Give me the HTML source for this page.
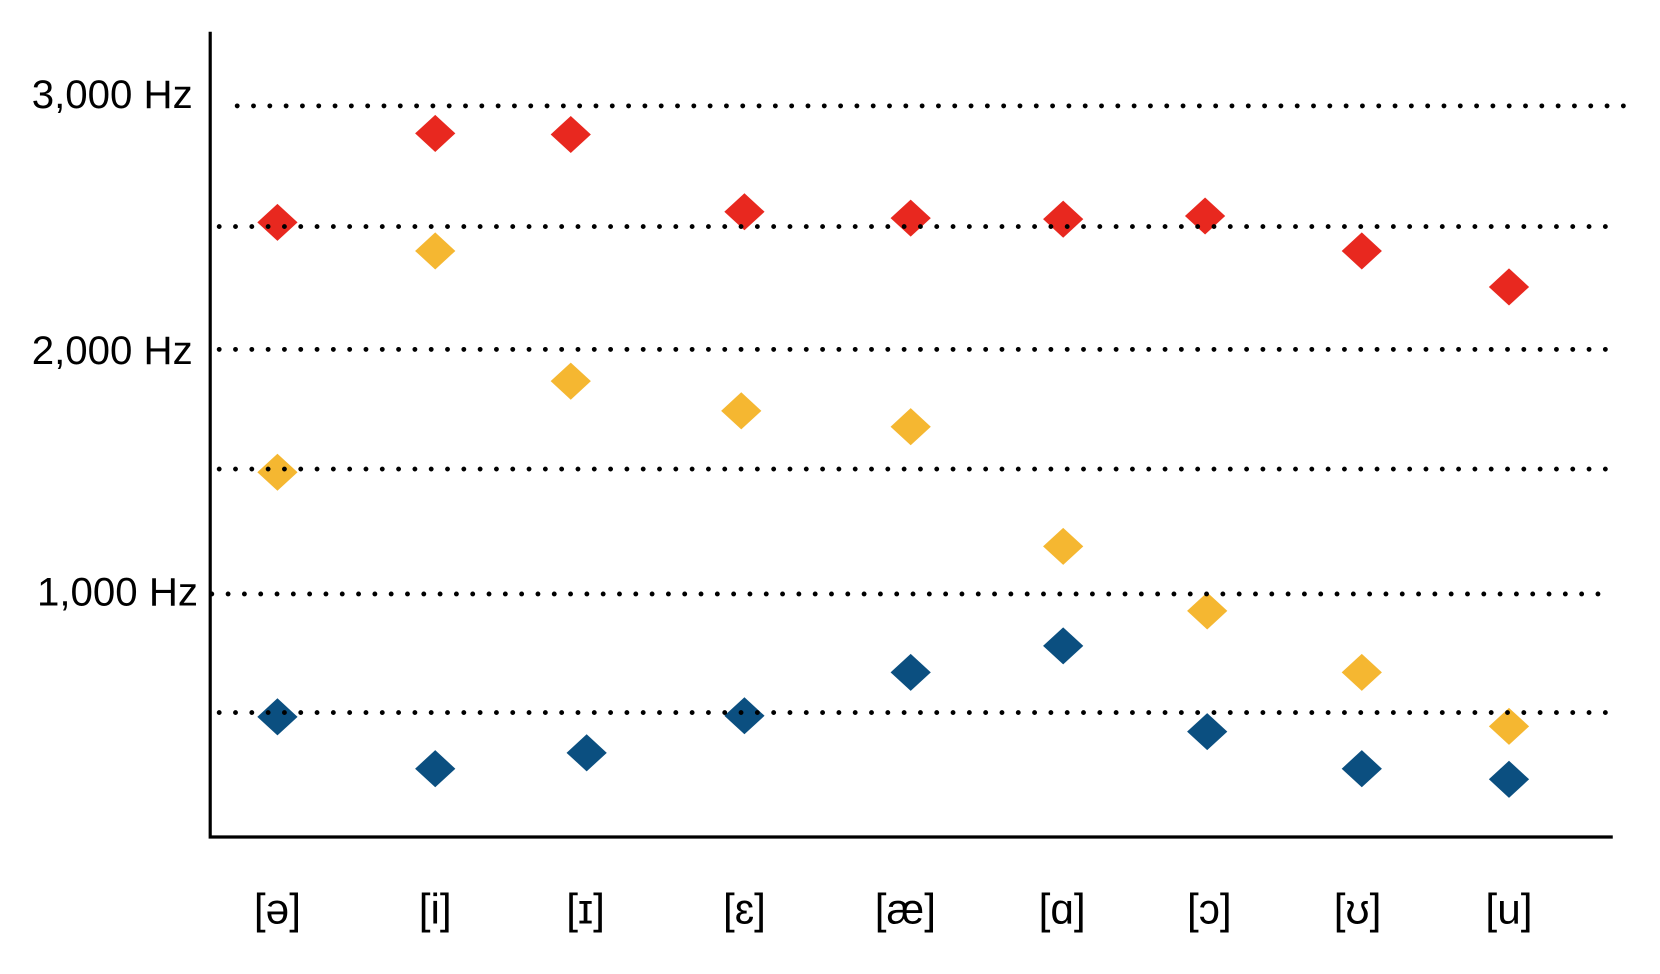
<!DOCTYPE html>
<html><head><style>html,body{margin:0;padding:0;background:#fff;}svg{display:block}</style></head>
<body>
<svg width="1660" height="974" viewBox="0 0 1567.6 919.9" preserveAspectRatio="none" xmlns="http://www.w3.org/2000/svg" font-family="Liberation Sans, DejaVu Sans, sans-serif">
<defs>
<path id="d" d="M0,-17.5 L19,0 L0,17.5 L-19,0 Z"/>
</defs>
<g fill="#e8281f">
<use href="#d" x="262" y="210"/><use href="#d" x="411" y="126"/><use href="#d" x="539" y="127"/><use href="#d" x="703" y="200"/><use href="#d" x="860" y="206"/><use href="#d" x="1004" y="207"/><use href="#d" x="1138" y="204"/><use href="#d" x="1286" y="237"/><use href="#d" x="1425" y="271"/>
</g>
<g fill="#f5b731">
<use href="#d" x="262" y="446"/><use href="#d" x="411" y="237"/><use href="#d" x="539" y="360"/><use href="#d" x="700" y="388"/><use href="#d" x="860" y="403"/><use href="#d" x="1004" y="516"/><use href="#d" x="1140" y="577"/><use href="#d" x="1286" y="635"/><use href="#d" x="1425" y="686"/>
</g>
<g fill="#0b4f80">
<use href="#d" x="262" y="677"/><use href="#d" x="411" y="726"/><use href="#d" x="554" y="711"/><use href="#d" x="703" y="676"/><use href="#d" x="860" y="635"/><use href="#d" x="1004" y="610"/><use href="#d" x="1140" y="691"/><use href="#d" x="1286" y="726"/><use href="#d" x="1425" y="736"/>
</g>
<g stroke="#000" stroke-width="4.6" stroke-linecap="round" stroke-dasharray="0 15.4" fill="none">
<line x1="224" y1="100" x2="1538" y2="100"/>
<line x1="207" y1="214" x2="1522" y2="214"/>
<line x1="207" y1="330" x2="1522" y2="330"/>
<line x1="207" y1="443" x2="1522" y2="443"/>
<line x1="200" y1="561" x2="1512" y2="561"/>
<line x1="207" y1="673" x2="1522" y2="673"/>
</g>
<path d="M198.5,30 V790.5 H1523" stroke="#000" stroke-width="3" fill="none"/>
<g font-size="38" text-anchor="end" fill="#000">
<text x="182" y="102">3,000 Hz</text>
<text x="182" y="344">2,000 Hz</text>
<text x="187" y="572">1,000 Hz</text>
</g>
<g font-size="40" text-anchor="middle" fill="#000">
<text x="262" y="872">[ə]</text><text x="411" y="872">[i]</text><text x="553" y="872">[ɪ]</text><text x="703" y="872">[ɛ]</text><text x="855" y="872">[æ]</text><text x="1003" y="872">[ɑ]</text><text x="1142" y="872">[ɔ]</text><text x="1282" y="872">[ʊ]</text><text x="1425" y="872">[u]</text>
</g>
</svg>
</body></html>
